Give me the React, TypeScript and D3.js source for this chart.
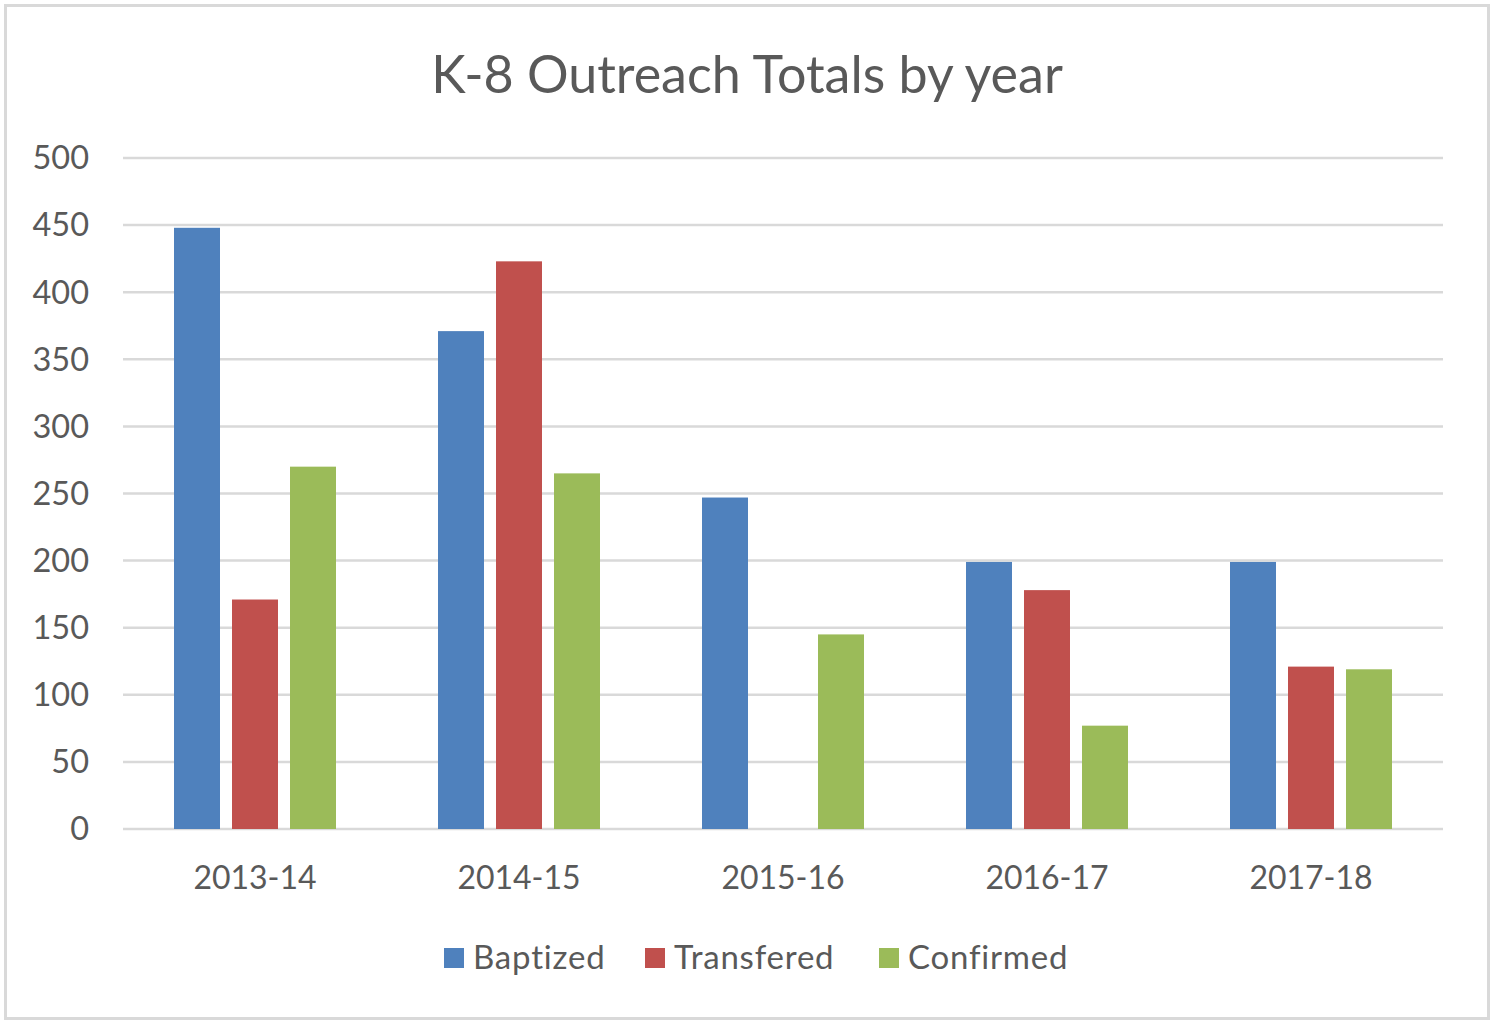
import React from "react";
import * as d3 from "d3";

const width = 1491;
const height = 1021;
const margin = { top: 158, right: 48, bottom: 192, left: 123 };

const years = ["2013-14", "2014-15", "2015-16", "2016-17", "2017-18"];
const seriesNames = ["Baptized", "Transfered", "Confirmed"];
const colors = ["#4f81bd", "#c0504d", "#9bbb59"];

const baptized = [448, 371, 247, 199, 199];
const transfered = [171, 423, 0, 178, 121];
const confirmed = [270, 265, 145, 77, 119];

const yTicks = [0, 50, 100, 150, 200, 250, 300, 350, 400, 450, 500];

const font = "Lato, 'Open Sans', sans-serif";
const textColor = "#595959";

export default function App() {
  const values = [baptized, transfered, confirmed];

  const x = d3
    .scaleBand<string>()
    .domain(years)
    .range([margin.left, width - margin.right])
    .padding(0);

  const groupWidth = 162;
  const inner = d3
    .scaleBand<string>()
    .domain(seriesNames)
    .range([(x.bandwidth() - groupWidth) / 2, (x.bandwidth() + groupWidth) / 2])
    .paddingInner(0.207)
    .paddingOuter(0);

  const y = d3
    .scaleLinear()
    .domain([0, 500])
    .range([height - margin.bottom, margin.top]);

  // legend layout
  const legendItems = [
    { name: "Baptized", x: 444 },
    { name: "Transfered", x: 645 },
    { name: "Confirmed", x: 879 },
  ];

  return (
    <svg
      width={width}
      height={height}
      style={{ position: "absolute", left: 0, top: 0, background: "#fff" }}
    >
      <rect x={5.5} y={5.5} width={width - 8} height={height - 8} fill="#fff" stroke="#d9d9d9" strokeWidth={3} />

      <text
        x={747}
        y={93}
        textAnchor="middle"
        fontFamily={font}
        fontSize={52}
        fill={textColor}
      >
        K-8 Outreach Totals by year
      </text>

      {yTicks.map((t) => (
        <g key={t}>
          <line
            x1={margin.left}
            x2={width - margin.right}
            y1={y(t)}
            y2={y(t)}
            stroke="#d9d9d9"
            strokeWidth={2.5}
          />
          <text
            x={89}
            y={y(t)}
            dy="0.35em"
            textAnchor="end"
            fontFamily={font}
            fontSize={32.5}
            fill={textColor}
          >
            {t}
          </text>
        </g>
      ))}

      {years.map((yr, i) => (
        <g key={yr} transform={`translate(${x(yr)},0)`}>
          {seriesNames.map((s, j) => {
            const v = values[j][i];
            if (!v) return null;
            return (
              <rect
                key={s}
                x={inner(s)}
                y={y(v)}
                width={inner.bandwidth()}
                height={y(0) - y(v)}
                fill={colors[j]}
              />
            );
          })}
          <text
            x={x.bandwidth() / 2}
            y={889}
            textAnchor="middle"
            fontFamily={font}
            fontSize={32}
            fill={textColor}
          >
            {yr}
          </text>
        </g>
      ))}

      {legendItems.map((it, i) => (
        <g key={it.name}>
          <rect x={it.x} y={948} width={20} height={20} fill={colors[i]} />
          <text
            x={it.x + 29}
            y={969}
            fontFamily={font}
            fontSize={33}
            letterSpacing={0.8}
            fill={textColor}
          >
            {it.name}
          </text>
        </g>
      ))}
    </svg>
  );
}
